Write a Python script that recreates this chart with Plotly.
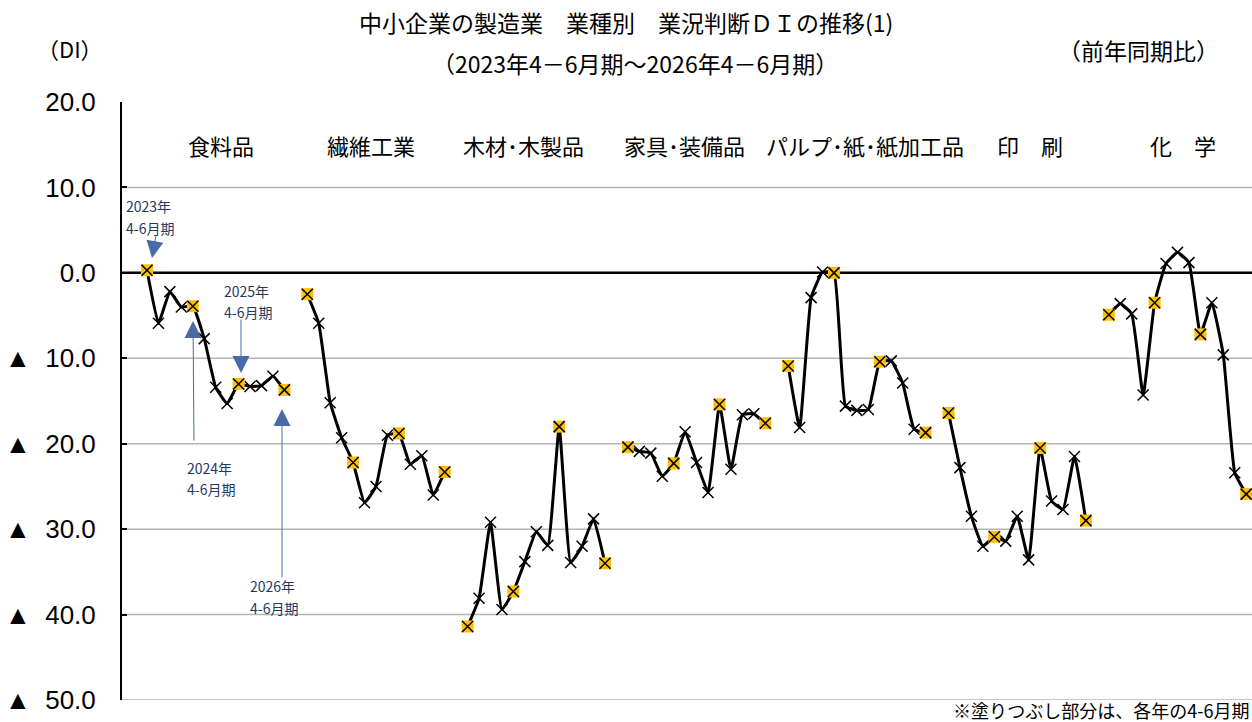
import plotly.graph_objects as go

# ---------------- data ----------------
categories = ["食料品", "繊維工業", "木材･木製品", "家具･装備品",
              "パルプ･紙･紙加工品", "印　刷", "化　学"]
quarters = ["2023年4-6月期", "7-9月期", "10-12月期", "2024年1-3月期",
            "2024年4-6月期", "7-9月期", "10-12月期", "2025年1-3月期",
            "2025年4-6月期", "7-9月期", "10-12月期", "2026年1-3月期",
            "2026年4-6月期"]
food      = [0.3, -5.9, -2.2, -4.0, -3.9, -7.7, -13.4, -15.3, -13.0, -13.3, -13.2, -12.1, -13.7]
textile   = [-2.5, -5.9, -15.2, -19.3, -22.2, -26.9, -25.0, -19.0, -18.8, -22.4, -21.4, -26.0, -23.3]
wood      = [-41.4, -38.1, -29.2, -39.4, -37.3, -33.8, -30.3, -31.9, -18.0, -33.9, -32.0, -28.8, -34.0]
furniture = [-20.4, -20.9, -21.1, -23.8, -22.3, -18.6, -22.2, -25.7, -15.4, -23.0, -16.6, -16.5, -17.6]
pulp      = [-10.9, -18.1, -2.9, 0.1, 0.0, -15.6, -16.1, -16.0, -10.4, -10.3, -12.9, -18.3, -18.7]
printing  = [-16.4, -22.8, -28.5, -32.0, -30.9, -31.4, -28.5, -33.6, -20.5, -26.7, -27.7, -21.5, -29.0]
chemical  = [-4.9, -3.6, -4.8, -14.3, -3.5, 1.1, 2.4, 1.2, -7.2, -3.5, -9.6, -23.4, -25.9]
series = [food, textile, wood, furniture, pulp, printing, chemical]
highlight_idx = [0, 4, 8, 12]          # 4-6月期 each year
tick_vals = [20, 10, 0, -10, -20, -30, -40, -50]
tick_text = ["20.0", "10.0", "0.0", "▲\u00a0\u00a010.0", "▲\u00a0\u00a020.0",
             "▲\u00a0\u00a030.0", "▲\u00a0\u00a040.0", "▲\u00a0\u00a050.0"]

# ---------------- layout geometry ----------------
W, H = 1252, 722
ML, MR, MT, MB = 122, 0, 102, 22
PW, PH = W - ML - MR, H - MT - MB
SLOT = 11.45
FIRST = 147
x0 = -(FIRST - ML) / SLOT
x1 = x0 + PW / SLOT
GROUP = len(quarters) + 1
# horizontal centres (pixels) of the industry headings
heading_px = [221, 371, 523, 684, 865, 1030, 1183]

JP = "Noto Sans CJK JP"
NAVY = "#1F3864"
ARROW = "#4A6AA5"


def px(xp):
    return (xp - ML) / PW


def py(yp):
    return (H - MB - yp) / PH


fig = go.Figure()

for g, vals in enumerate(series):
    xs = [GROUP * g + i for i in range(len(vals))]
    fig.add_trace(go.Scatter(
        x=xs, y=vals, mode="lines+markers", name=categories[g],
        line=dict(color="black", width=3, shape="spline", smoothing=0.35),
        marker=dict(symbol="x-thin", size=11, color="black",
                    line=dict(color="black", width=1.5)),
        showlegend=False, hoverinfo="skip"))
    hx = [xs[i] for i in highlight_idx]
    hy = [vals[i] for i in highlight_idx]
    fig.add_trace(go.Scatter(
        x=hx, y=hy, mode="markers",
        marker=dict(symbol="square", size=12, color="#FFC000",
                    line=dict(width=0)),
        showlegend=False, hoverinfo="skip"))
    fig.add_trace(go.Scatter(
        x=hx, y=hy, mode="markers",
        marker=dict(symbol="x-thin", size=11, color="black",
                    line=dict(color="black", width=1.5)),
        showlegend=False, hoverinfo="skip"))

# gridlines (none at the top) and zero line
shapes = []
for v in tick_vals:
    if v == tick_vals[0]:
        continue
    if v == 0:
        shapes.append(dict(type="line", xref="paper", yref="y", x0=0, x1=1,
                           y0=v, y1=v, line=dict(color="black", width=2.5),
                           layer="below"))
    else:
        shapes.append(dict(type="line", xref="paper", yref="y", x0=0, x1=1,
                           y0=v, y1=v, line=dict(color="#B4B4B4", width=1.5),
                           layer="below"))


def label(text, xp, yp, size, color="black", xanchor="center"):
    return dict(text=text, x=px(xp), y=py(yp), xref="paper", yref="paper",
                xanchor=xanchor, yanchor="middle", showarrow=False,
                font=dict(family=JP, size=size, color=color))


annotations = [
    label("中小企業の製造業　業種別　業況判断ＤＩの推移(1)", 626, 22, 23),
    label("（2023年4－6月期～2026年4－6月期）", 635, 63, 23),
    label("（DI）", 70, 48, 22),
    label("（前年同期比）", 1138, 50, 23),
    label("※塗りつぶし部分は、各年の4-6月期", 1251, 710, 18, xanchor="right"),
]

# category labels
for name, hp in zip(categories, heading_px):
    annotations.append(label(name, hp, 145, 22))

# period call-outs
callouts = [
    ("2023年", (124, 206), (124, 228), (152, 258), (156, 235)),
    ("2025年", (222, 291), (222, 312), (241, 373), (241, 318)),
    ("2024年", (185, 468), (185, 489), (193, 321), (194, 442)),
    ("2026年", (248, 586), (248, 608), (282, 409), (282, 579)),
]
for yr, p1, p2, tip, tail in callouts:
    annotations.append(label(yr, p1[0], p1[1], 14, NAVY, xanchor="left"))
    annotations.append(label("4-6月期", p2[0], p2[1], 14, NAVY, xanchor="left"))
    annotations.append(dict(text="", x=px(tip[0]), y=py(tip[1]), xref="paper",
                            yref="paper", showarrow=True, arrowhead=2,
                            arrowsize=3.4, arrowwidth=1, arrowcolor=ARROW,
                            ax=tail[0] - tip[0], ay=tail[1] - tip[1]))

fig.update_layout(
    width=W, height=H,
    margin=dict(l=ML, r=MR, t=MT, b=MB, pad=0),
    paper_bgcolor="white", plot_bgcolor="white",
    shapes=shapes, annotations=annotations,
    xaxis=dict(range=[x0, x1], visible=False, fixedrange=True),
    yaxis=dict(range=[-50, 20], tickvals=tick_vals, ticktext=tick_text,
               showgrid=False, zeroline=False, showline=True,
               linecolor="black", linewidth=2, ticks="inside", ticklen=5,
               tickwidth=2, tickcolor="black", ticklabelstandoff=19,
               tickfont=dict(family="Liberation Sans, Arial", size=26, color="black"),
               fixedrange=True),
)

fig.write_html("out.html", config={"displayModeBar": False})

# remove the default page margin so the figure sits at the window's corner
with open("out.html", "r", encoding="utf-8") as f:
    html = f.read()
html = html.replace("<head>", "<head><style>html,body{margin:0;padding:0;overflow:hidden;}</style>", 1)
with open("out.html", "w", encoding="utf-8") as f:
    f.write(html)
